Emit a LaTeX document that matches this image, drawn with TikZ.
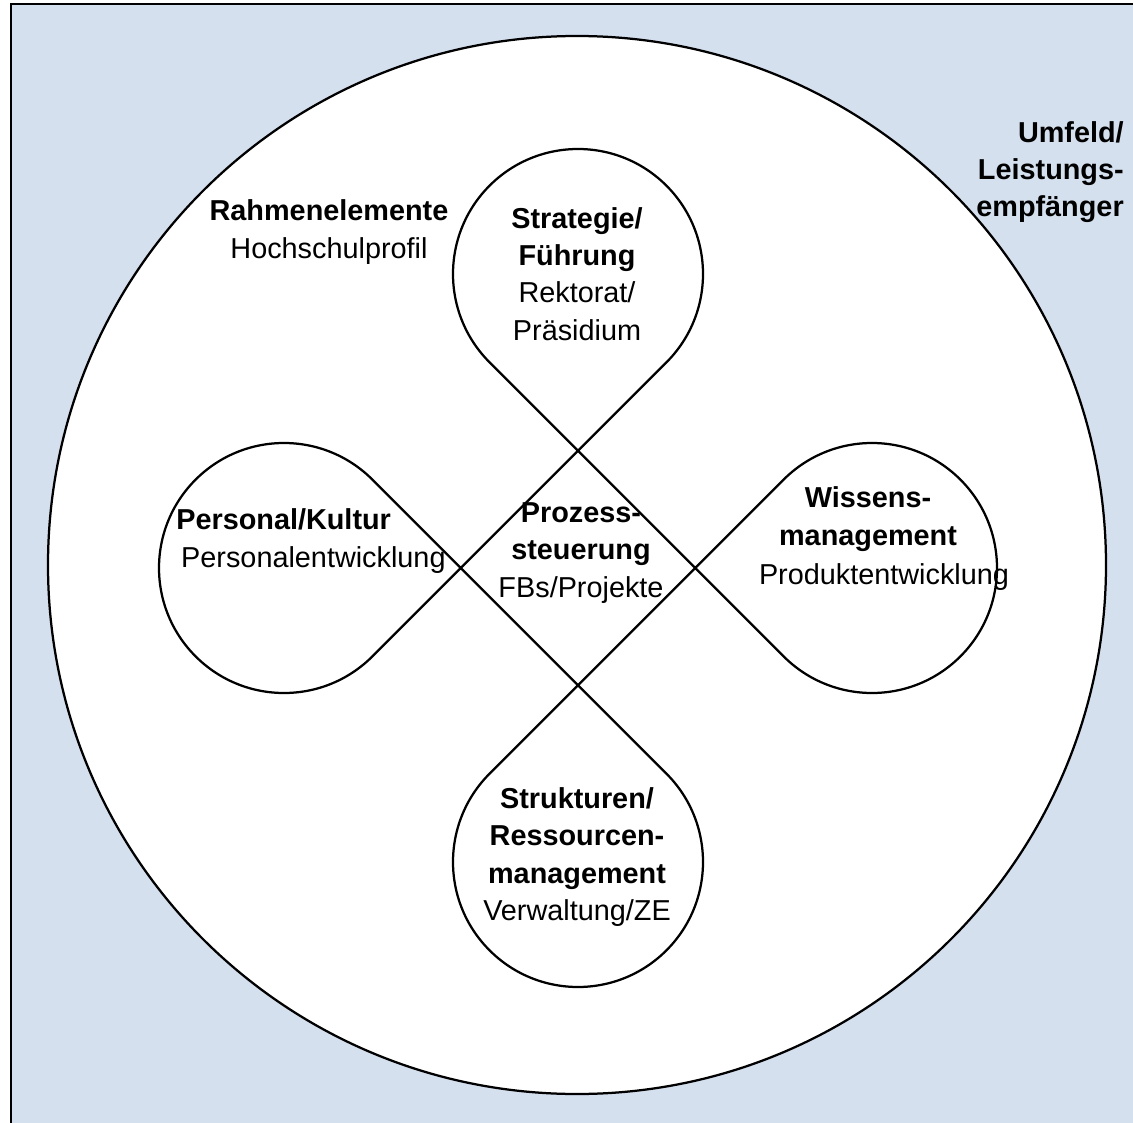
\documentclass[tikz,border=0pt]{standalone}
\usepackage{fontspec}
\setmainfont{Liberation Sans}
\usetikzlibrary{calc}
\definecolor{umfeldblau}{RGB}{213,224,239}

\begin{document}
\begin{tikzpicture}[x=0.025cm,y=-0.025cm,
	txt/.style={align=center, font=\fontsize{20.5}{26.5}\selectfont, inner sep=0pt},
	linie/.style={draw=black, line width=1.6pt}]
		\useasboundingbox (0,0) rectangle (1133,1123);

		% Umfeld
		\draw[fill=umfeldblau, line width=1.8pt] (11,4) rectangle (1160,1160);
		\draw[linie, fill=white] (577,565) circle[radius=529];

		% Kleeblatt
		\def\rb{125}
		\coordinate (mitte) at (578,568);
		\coordinate (unten) at ($(mitte)+(0,294)$);
		\coordinate (rechts) at ($(mitte)+(294,0)$);
		\coordinate (oben) at ($(mitte)+(0,-294)$);
		\coordinate (links) at ($(mitte)+(-294,0)$);

		\draw[linie] ($(unten)+(225:\rb)$) -- ($(rechts)+(225:\rb)$) arc[start angle=225, end angle=495, radius=\rb]
			-- ($(oben)+(135:\rb)$) arc[start angle=135, end angle=405, radius=\rb]
			-- ($(links)+(45:\rb)$) arc[start angle=45, end angle=315, radius=\rb]
			-- ($(unten)+(315:\rb)$) arc[start angle=315, end angle=585, radius=\rb] -- cycle;

		% Texte
		\node[txt, align=right, anchor=east] (umfeld) at (1124,172) {\textbf{Umfeld/}\\\textbf{Leistungs-}\\\textbf{empfänger}};
		\node[txt] (rahmen) at (329,232) {\textbf{Rahmenelemente}\\Hochschulprofil};
		\node[txt] (strategie) at (577,274) {\textbf{Strategie/}\\\textbf{Führung}\\Rektorat/\\Präsidium};
		\node[txt, align=left, anchor=west] (personal) at (176,541) {\textbf{Personal/Kultur}\\\hspace*{3.5pt}Personalentwicklung};
		\node[txt] (prozess) at (581,553) {\textbf{Prozess-}\\\textbf{steuerung}\\FBs/Projekte};
		\node[txt] (wissen) at (868,519) {\textbf{Wissens-}\\\textbf{management}};
		\node[txt] (produkt) at (884,577) {Produktentwicklung};
		\node[txt] (strukturen) at (577,857) {\textbf{Strukturen/}\\\textbf{Ressourcen-}\\\textbf{management}\\Verwaltung/ZE};
	\end{tikzpicture}
\end{document}
